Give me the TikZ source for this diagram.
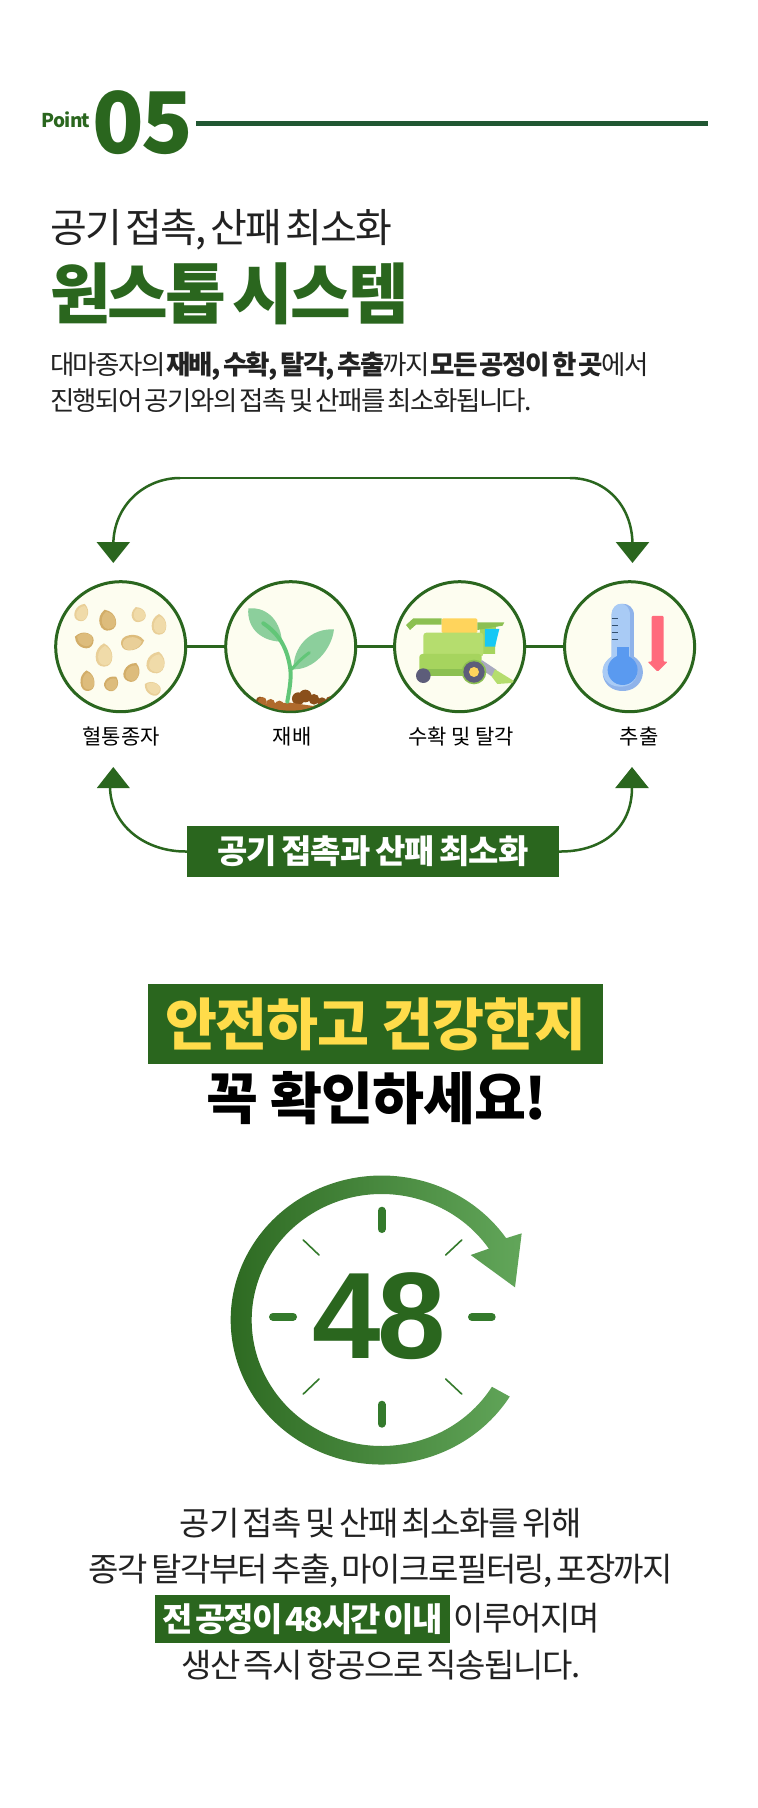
\documentclass[tikz,border=0pt]{standalone}
\usepackage{fontspec}
\setmainfont{Noto Sans CJK KR}
\newfontfamily\numfont{Liberation Sans}[BoldFont={* Bold}]
\usetikzlibrary{arrows.meta,shapes.geometric}
\definecolor{gr}{HTML}{2A661E}
\definecolor{grd}{HTML}{215732}
\definecolor{grl}{HTML}{62A65A}
\definecolor{ivory}{HTML}{FDFDF0}
\definecolor{ink}{HTML}{222222}
\definecolor{yel}{HTML}{FFDC4A}
\definecolor{tick}{HTML}{347A2C}
\definecolor{sdA}{HTML}{D2AD68}
\definecolor{sdB}{HTML}{DDBC7C}
\definecolor{sdC}{HTML}{E9CF98}
\definecolor{sdD}{HTML}{F0DBA9}
\definecolor{leaf}{HTML}{8CCF9C}
\definecolor{vein}{HTML}{5DBB6E}
\definecolor{stem}{HTML}{62C678}
\definecolor{soilA}{HTML}{8A4F1A}
\definecolor{soilB}{HTML}{B06A2C}
\definecolor{mA}{HTML}{B5DD6E}
\definecolor{mB}{HTML}{A6D45E}
\definecolor{mC}{HTML}{8CC052}
\definecolor{mY}{HTML}{FFD45C}
\definecolor{mW}{HTML}{5D5D7A}
\definecolor{mG}{HTML}{A9A9C0}
\definecolor{mS}{HTML}{16C8F5}
\definecolor{thA}{HTML}{A9CBF5}
\definecolor{thB}{HTML}{8FB3EA}
\definecolor{thC}{HTML}{5A9AF0}
\definecolor{thD}{HTML}{33506F}
\definecolor{thR}{HTML}{FF6B7C}
\newcommand{\F}[1]{\fontsize{#1}{#1}\selectfont}
\newcommand{\LS}[2]{\addfontfeatures{LetterSpace=#1}\spaceskip=#2\fontdimen2\font\relax}
\newcommand{\seed}[7]{%
  \begin{scope}[shift={(#1,#2)},rotate=#5,xscale=#3,yscale=#4]
    \fill[#6] (0,-1) .. controls (.7,-.75) and (1,-.3) .. (1,.15) .. controls (1,.7) and (.6,1) .. (0,1) .. controls (-.6,1) and (-1,.7) .. (-1,.15) .. controls (-1,-.3) and (-.7,-.75) .. cycle;
    \begin{scope}[shift={(.12,.04)},scale=.82]
      \fill[#7] (0,-1) .. controls (.7,-.75) and (1,-.3) .. (1,.15) .. controls (1,.7) and (.6,1) .. (0,1) .. controls (-.6,1) and (-1,.7) .. (-1,.15) .. controls (-1,-.3) and (-.7,-.75) .. cycle;
    \end{scope}
  \end{scope}}
\tikzset{
  txt/.style={inner sep=0pt,outer sep=0pt,text=ink},
  round disc/.style={circle,draw=gr,line width=3pt,fill=ivory,minimum size=130pt,inner sep=0pt},
  link/.style={draw=gr,line width=2.5pt},
  flow/.style={draw=gr,line width=2.5pt,-{Triangle[width=33pt,length=21pt,fill=gr]},shorten >=0pt},
  caption/.style={txt,text=black,font=\F{21}},
  clock tick/.style={draw=tick,line width=8pt,line cap=round},
  thin tick/.style={draw=tick,line width=1.6pt,line cap=round},
  greenbox/.style={fill=gr,inner sep=0pt,outer sep=0pt},
}
\begin{document}
\begin{tikzpicture}[x=1pt,y=-1pt]
\useasboundingbox[fill=white] (0,0) rectangle (758,1808);

% header
\node[txt,anchor=west,text=gr,font=\F{19}\bfseries\LS{-4}{1}] (pt) at (41.5,120) {Point};
\node[txt,anchor=west,text=gr,font=\F{85}\bfseries\LS{-3}{1}] (num) at (92,123) {05};
\coordinate (ruleA) at (196,123.5);
\coordinate (ruleB) at (708,123.5);
\draw[grd,line width=5pt] (ruleA) -- (ruleB);

\node[txt,anchor=west,font=\F{40}\LS{-4.5}{.5}] (t1) at (50,230) {공기 접촉, 산패 최소화};
\node[txt,anchor=west,text=gr,font=\F{66}\bfseries\LS{-4.3}{.5}] (t2) at (50,294) {원스톱 시스템};
\node[txt,anchor=west,font=\F{26.5}\LS{-6}{.5}] (p1) at (50,366) {대마종자의 \textbf{재배, 수확, 탈각, 추출}까지 \textbf{모든 공정이 한 곳}에서};
\node[txt,anchor=west,font=\F{26.5}\LS{-6}{.5}] (p2) at (50,401) {진행되어 공기와의 접촉 및 산패를 최소화됩니다.};

% circles
\node[round disc] (c1) at (120.7,646.7) {};
\node[round disc] (c2) at (290.7,646.7) {};
\node[round disc] (c3) at (459.6,646.7) {};
\node[round disc] (c4) at (629.6,646.7) {};
\draw[link] (c1) -- (c2);
\draw[link] (c2) -- (c3);
\draw[link] (c3) -- (c4);

\node[caption] (l1) at (121,737) {혈통종자};
\node[caption] (l2) at (292,737) {재배};
\node[caption] (l3) at (461,737) {수확 및 탈각};
\node[caption] (l4) at (639,737) {추출};

% seeds
\begin{scope}[shift={(30,460)},x=.3333pt,y=-.3333pt]
\seed{155}{457}{20}{27}{-20}{sdC}{sdD}
\seed{232}{480}{25}{32}{15}{sdA}{sdB}
\seed{325}{463}{21}{23}{20}{sdC}{sdD}
\seed{387}{493}{22}{31}{0}{sdC}{sdD}
\seed{162}{540}{23}{29}{70}{sdA}{sdB}
\seed{308}{547}{23}{35}{-80}{sdB}{sdC}
\seed{222}{585}{25}{35}{0}{sdC}{sdD}
\seed{378}{607}{27}{33}{-15}{sdC}{sdD}
\seed{306}{636}{23}{30}{-25}{sdA}{sdB}
\seed{172}{662}{21}{31}{5}{sdA}{sdB}
\seed{245}{670}{20}{24}{-35}{sdA}{sdB}
\seed{367}{685}{19}{26}{60}{sdC}{sdD}
\end{scope}

% plant
\begin{scope}
\clip (c2.center) circle (64pt);
\begin{scope}[shift={(30,460)},x=.3333pt,y=-.3333pt]
\fill[soilA] (805,716) circle (19) (826,708) circle (19) (852,718) circle (16) (876,726) circle (14) (900,722) circle (13);
\fill[soilA] (690,722) circle (12);
\fill[soilB] (697,724) circle (13) (722,730) circle (13) (748,736) circle (14);
\fill[soilB] (660,732) -- (780,728) -- (850,738) -- (930,728) -- (930,770) -- (660,770) -- cycle;
\end{scope}
\end{scope}
\begin{scope}[shift={(30,460)},x=.3333pt,y=-.3333pt]
\fill[leaf] (655,445) .. controls (700,440) and (750,470) .. (756,545) .. controls (700,545) and (650,510) .. cycle;
\fill[leaf] (912,508) .. controls (905,570) and (850,630) .. (790,628) .. controls (790,560) and (840,505) .. cycle;
\draw[stem,line width=4pt,line cap=round] (772,725) .. controls (780,680) and (785,650) .. (780,620) .. controls (770,560) and (745,520) .. (700,490);
\draw[stem,line width=3pt,line cap=round] (785,628) .. controls (800,610) and (815,595) .. (838,578);
\end{scope}

% harvester
\begin{scope}
\clip (c3.center) circle (64pt);
\begin{scope}[shift={(380,460)},x=.3333pt,y=-.3333pt]
\fill[mC] (185,475) -- (100,475) -- (78,495) -- (90,510) -- (108,494) -- (185,494) -- cycle;
\fill[mY,rounded corners=1.5pt] (185,475) rectangle (292,520);
\fill[mB] (300,500) -- (348,500) -- (345,582) -- (300,582) -- cycle;
\fill[mC] (292,487) -- (373,487) -- (368,497) -- (292,510) -- cycle;
\fill[mS] (315,507) -- (358,507) -- (345,560) -- (315,560) -- cycle;
\fill[mA,rounded corners=3pt] (130,518) rectangle (310,590);
\fill[mB,rounded corners=3pt] (118,582) rectangle (305,648);
\fill[mC] (118,628) rectangle (255,648);
\fill[mG] (305,600) -- (350,630) -- (340,652) -- (298,625) -- cycle;
\fill[mA] (345,628) -- (410,668) -- (352,672) -- (335,650) -- cycle;
\fill[mC] (282,636) circle (37);
\fill[mW] (282,636) circle (32);
\fill[mY] (282,636) circle (15);
\fill[mW] (130,647) circle (22);
\end{scope}
\end{scope}

% thermometer
\begin{scope}[shift={(380,460)},x=.3333pt,y=-.3333pt]
\fill[thB] (695,590) -- (695,465) .. controls (695,420) and (762,420) .. (762,465) -- (762,590) .. controls (810,620) and (790,693) .. (728,693) .. controls (665,693) and (648,620) .. (695,590) -- cycle;
\fill[thA] (695,590) -- (695,465) .. controls (695,420) and (750,420) .. (750,465) -- (750,590) .. controls (790,620) and (775,680) .. (722,680) .. controls (665,680) and (648,620) .. (695,590) -- cycle;
\fill[thC] (710,560) rectangle (746,600);
\fill[thC] (728,630) circle (45);
\draw[thD,line width=1.6pt] (695,475) -- (715,475) (695,497) -- (715,497) (695,517) -- (715,517) (695,538) -- (715,538);
\fill[thR,rounded corners=1pt] (815,468) -- (851,468) -- (851,605) -- (863,605) -- (833,635) -- (803,605) -- (815,605) -- cycle;
\end{scope}

% cycle arrows
\coordinate (upL) at (113.3,563);
\coordinate (upR) at (632.5,563);
\coordinate (topL) at (180,478);
\coordinate (topR) at (570,478);
\draw[flow] (topL) .. controls (145,478) and (113.3,505) .. (113.3,545) -- (upL);
\draw[flow] (topR) .. controls (605,478) and (632.5,505) .. (632.5,545) -- (upR);
\draw[link] (topL) -- (topR);

\node[greenbox,minimum width=372pt,minimum height=51pt,text=white,font=\F{33}\bfseries\LS{-3}{.7}] (bx) at (372.8,851.5) {공기 접촉과 산패 최소화};
\coordinate (dnL) at (113.3,767);
\coordinate (dnR) at (632,767);
\draw[link] (bx.west) .. controls (145,852) and (110,825) .. (110,786);
\fill[gr] (dnL) -- ++(-16.5,21) -- ++(33,0) -- cycle;
\draw[flow] (bx.east) .. controls (600,852) and (632,830) .. (dnR);

% headline
\node[greenbox,minimum width=455pt,minimum height=80pt,text=yel,font=\F{56.5}\bfseries\LS{-2}{1}] (h1) at (375.5,1024) {\raisebox{2pt}{안전하고 건강한지}};
\node[txt,text=black,font=\F{56.5}\bfseries\LS{-2}{1}] (h2) at (377,1098) {꼭 확인하세요!};

% clock
\shade[left color=gr,middle color=gr!92!grl,right color=grl]
  ([shift={(381.7,1320)}]-32:151pt and 144.5pt) arc[start angle=-32,end angle=-325.5,x radius=151pt,y radius=144.5pt]
  -- (521.7,1233.3) -- (515,1287.3) -- (470.7,1255)
  -- ([shift={(381.7,1320)}]-325.5:130pt and 126pt) arc[start angle=-325.5,end angle=-32,x radius=130pt,y radius=126pt]
  -- cycle;
\draw[clock tick] (381.7,1210.7) -- (381.7,1229);
\draw[clock tick] (381.7,1404.7) -- (381.7,1423.7);
\draw[clock tick] (273,1316.7) -- (293,1316.7);
\draw[clock tick] (472,1317) -- (491.7,1317);
\draw[thin tick] (303.3,1240) -- (319,1255);
\draw[thin tick] (461.7,1240) -- (445.7,1255);
\draw[thin tick] (319,1379) -- (303.3,1394);
\draw[thin tick] (445.7,1379) -- (461.7,1394);
\node[txt,text=gr,font=\numfont\F{123}\bfseries\LS{-3}{1}] (hh) at (379.5,1316) {48};

% closing lines
\node[txt,font=\F{33}\LS{-4}{.55}] (e1) at (381,1523) {공기 접촉 및 산패 최소화를 위해};
\node[txt,font=\F{33}\LS{-4.5}{.55}] (e2) at (381,1571) {종각 탈각부터 추출, 마이크로필터링, 포장까지};
\node[greenbox,minimum width=295pt,minimum height=48pt,text=white,font=\F{33}\bfseries\LS{-5.5}{.5}] (e3) at (302.5,1619) {전 공정이 48시간 이내};
\node[txt,anchor=west,font=\F{33}\LS{-4}{.55}] (e4) at (453,1618) {이루어지며};
\node[txt,font=\F{33}\LS{-4.3}{.55}] (e5) at (381,1665) {생산 즉시 항공으로 직송됩니다.};
\end{tikzpicture}
\end{document}
